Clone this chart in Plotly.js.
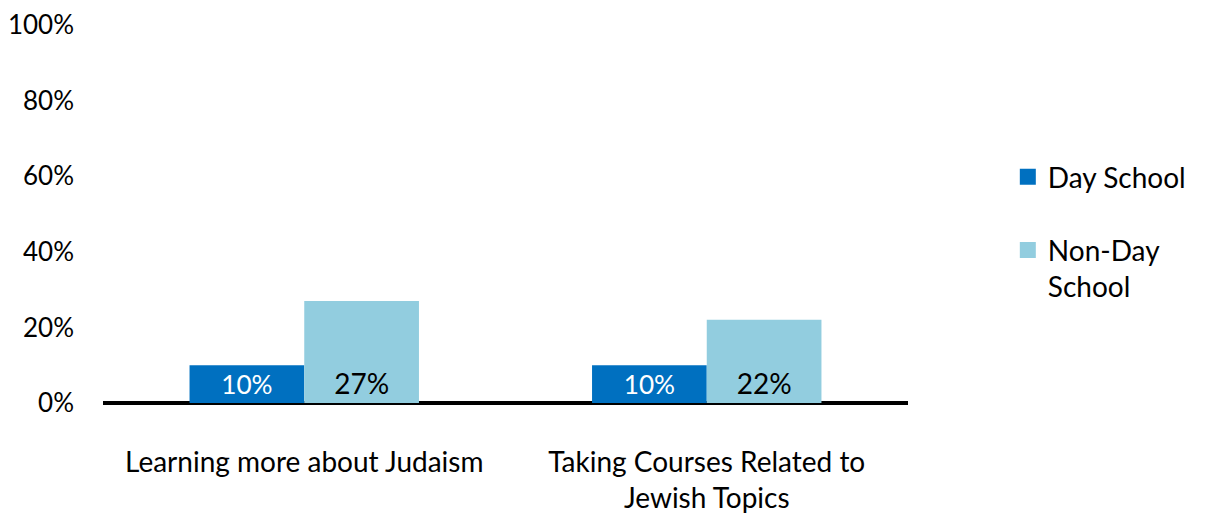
<!DOCTYPE html>
<html><head><meta charset="utf-8">
<script src="https://cdn.plot.ly/plotly-3.0.1.min.js"></script>
<style>html,body{margin:0;padding:0;background:#fff;}#chart{width:1207px;height:517px;}</style>
</head><body><div id="chart"></div>
<script>
const categories = ["Learning more about Judaism", "Taking Courses Related to<br>Jewish Topics"];
const seriesNames = ["Day School", "Non-Day<br>School"];
const seriesColors = ["#0070C0", "#92CDDF"];
const daySchool = [0.10, 0.10];
const nonDaySchool = [0.27, 0.22];
const yTicks = [0, 0.2, 0.4, 0.6, 0.8, 1.0];
const yTickLabels = ["0%", "20%", "40%", "60%", "80%", "100%"];

const FONT = "Lato, 'Open Sans', sans-serif";
const pct = v => Math.round(v * 100) + "%";

const traces = [
  {type: "bar", name: seriesNames[0], x: categories, y: daySchool, showlegend: false,
   marker: {color: seriesColors[0]}, text: daySchool.map(pct), textposition: "inside",
   insidetextanchor: "start", textfont: {color: "#ffffff", size: 28, family: FONT},
   hoverinfo: "skip", cliponaxis: false},
  {type: "bar", name: seriesNames[1], x: categories, y: nonDaySchool, showlegend: false,
   marker: {color: seriesColors[1]}, text: nonDaySchool.map(pct), textposition: "inside",
   insidetextanchor: "start", textfont: {color: "#000000", size: 28, family: FONT},
   hoverinfo: "skip", cliponaxis: false},
  {type: "scatter", mode: "markers", name: seriesNames[0], x: [null], y: [null], legendgroup: "g1",
   marker: {symbol: "square", size: 18, color: seriesColors[0]}, hoverinfo: "skip"},
  {type: "scatter", mode: "markers", name: seriesNames[1], x: [null], y: [null], legendgroup: "g2",
   marker: {symbol: "square", size: 18, color: seriesColors[1]}, hoverinfo: "skip"}
];

const layout = {
  width: 1207, height: 517,
  margin: {l: 103, r: 299, t: 25, b: 114},
  paper_bgcolor: "#fff", plot_bgcolor: "#fff",
  font: {family: FONT, size: 27, color: "#000"},
  barmode: "group", bargap: 0.43, bargroupgap: 0,
  showlegend: true,
  legend: {x: 1.124, xanchor: "left", y: 0.664, yanchor: "top", valign: "top",
           font: {size: 28, family: FONT}, tracegroupgap: 34, itemwidth: 30,
           bgcolor: "rgba(0,0,0,0)"},
  xaxis: {showgrid: false, zeroline: false, showline: false, ticks: "",
          tickfont: {size: 28}, ticklabelstandoff: 40, automargin: false},
  yaxis: {range: [0, 1], tickvals: yTicks, ticktext: yTickLabels, showgrid: false,
          zeroline: true, zerolinecolor: "#000", zerolinewidth: 4,
          showline: false, ticks: "", ticklabelstandoff: 28, tickfont: {size: 26}, automargin: false}
};

Plotly.newPlot("chart", traces, layout, {staticPlot: true, displayModeBar: false});
</script></body></html>
